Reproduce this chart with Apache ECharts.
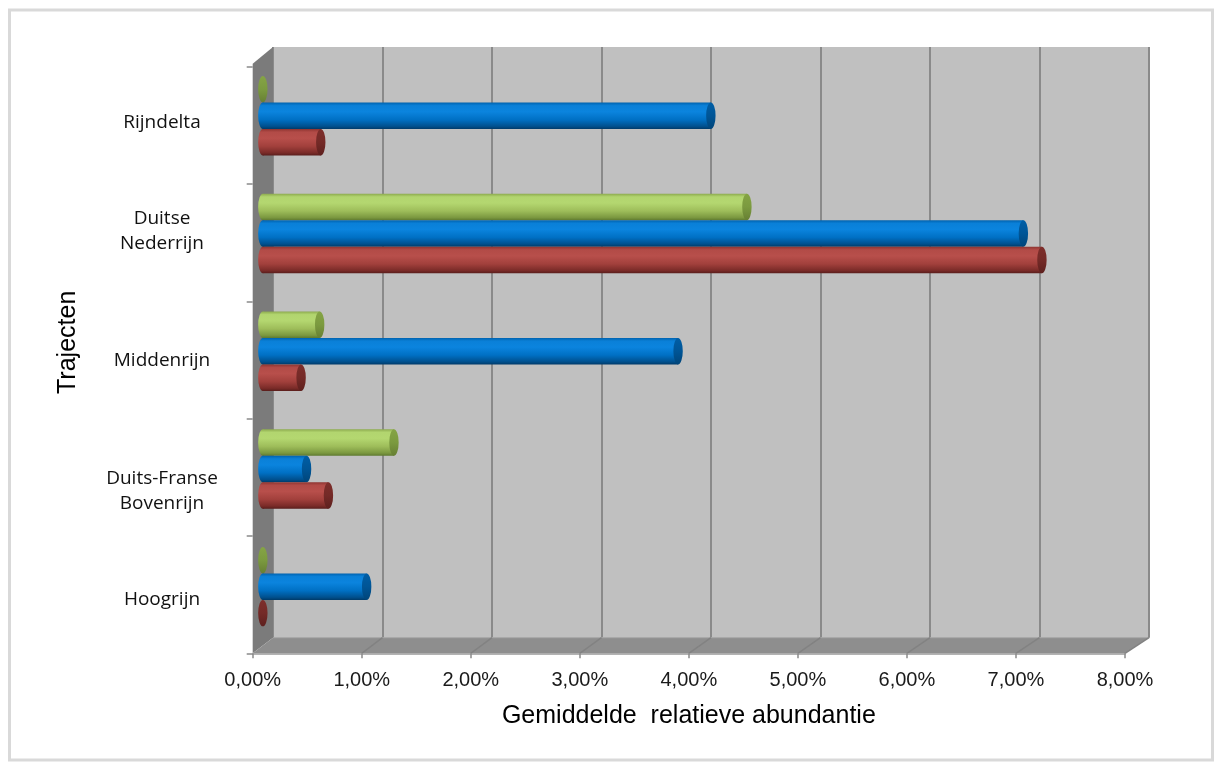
<!DOCTYPE html>
<html>
<head>
<meta charset="utf-8">
<title>Gemiddelde relatieve abundantie per traject</title>
<script src="https://cdn.jsdelivr.net/npm/echarts@6/dist/echarts.min.js"></script>
<style>
  html, body { margin: 0; padding: 0; background: #ffffff; }
  #chart { width: 1221px; height: 767px; }
</style>
</head>
<body>
<div id="chart"></div>
<script>
// Categories, bottom to top (the order the category axis lays them out)
const categories = ['Hoogrijn', 'Duits-Franse\nBovenrijn', 'Middenrijn', 'Duitse\nNederrijn', 'Rijndelta'];

// Mean relative abundance in percent, one value per category
const reeks1 = [0.00, 0.60, 0.35, 7.13, 0.53];   // red
const reeks2 = [0.95, 0.40, 3.80, 6.96, 4.10];   // blue
const reeks3 = [0.00, 1.20, 0.52, 4.43, 0.00];   // green

// Value axis tick labels (0 .. 8 %)
const xTickLabels = ['0,00%', '1,00%', '2,00%', '3,00%', '4,00%', '5,00%', '6,00%', '7,00%', '8,00%'];

// ---- layout of the 3D box: front plane, back wall and the depth where the cylinders sit
const FRONT = { left: 252.7, top: 66.7, width: 872.3, height: 586.6 };
const BACK  = { left: 273, top: 47, width: 876, height: 590.7 };
const MID = {
  left: (FRONT.left + BACK.left) / 2,
  top: (FRONT.top + BACK.top) / 2,
  width: (FRONT.width + BACK.width) / 2,
  height: (FRONT.height + BACK.height) / 2
};
const LABEL_X = 162;          // horizontal centre of the category labels
// vertical nudge of each category label (px), same order as categories
const LABEL_SHIFT = [5, 14, 1, -12, -3];
const BAR_FRACTION = 0.225;   // bar thickness as a share of a category band
const CAP_RX = 4.7;           // horizontal radius of the cylinder end caps

function grad(stops) {
  return { type: 'linear', x: 0, y: 0, x2: 0, y2: 1,
    colorStops: stops.map(s => ({ offset: s[0], color: s[1] })) };
}

const cylStyles = [
  { // red
    body: [[0, '#8e3431'], [0.12, '#b24b47'], [0.35, '#b84f4b'], [0.65, '#a2403c'], [0.9, '#7a2b28'], [1, '#5a1e1c']],
    cap: [[0, '#7d2e2b'], [0.5, '#742a27'], [1, '#5e201e']],
    offset: 1
  },
  { // blue
    body: [[0, '#0062ae'], [0.12, '#0a80d8'], [0.35, '#0b84de'], [0.65, '#0070c4'], [0.9, '#00508e'], [1, '#003b6a']],
    cap: [[0, '#005ea6'], [0.5, '#005596'], [1, '#00457a']],
    offset: 0
  },
  { // green
    body: [[0, '#8caa4e'], [0.12, '#b2d56f'], [0.35, '#b4d770'], [0.65, '#9ebd5a'], [0.9, '#7b9840'], [1, '#5f7a30']],
    cap: [[0, '#85a445'], [0.5, '#7b9a3f'], [1, '#677f33']],
    offset: -1
  }
];

function ellipse(cx, cy, rx, ry, fill) {
  return {
    type: 'circle',
    shape: { cx: 0, cy: 0, r: ry },
    x: cx, y: cy, scaleX: rx / ry, scaleY: 1,
    style: { fill: fill }
  };
}

function makeCylinder(styleIdx) {
  const st = cylStyles[styleIdx];
  return function (params, api) {
    const v = api.value(0);
    const cat = api.value(1);
    const p0 = api.coord([0, cat]);
    const p1 = api.coord([v, cat]);
    const band = api.size([0, 1])[1];
    const h = band * BAR_FRACTION;
    const cy = p0[1] + st.offset * h;
    const top = cy - h / 2;
    const children = [];
    if (p1[0] - p0[0] > 0.5) {
      children.push(ellipse(p0[0], cy, CAP_RX, h / 2, grad(st.body)));
      children.push({
        type: 'rect',
        shape: { x: p0[0], y: top, width: p1[0] - p0[0], height: h },
        style: { fill: grad(st.body) }
      });
    }
    children.push(ellipse(p1[0], cy, CAP_RX, h / 2, grad(st.cap)));
    return { type: 'group', children: children };
  };
}

// category names beside the left wall, centred on their bands
function renderCategoryLabel(params, api) {
  const idx = api.value(1);
  const p = api.coord([0, idx]);
  return {
    type: 'text',
    x: LABEL_X,
    y: p[1] + LABEL_SHIFT[idx],
    style: {
      text: categories[idx],
      align: 'center', verticalAlign: 'middle',
      fontFamily: 'Open Sans', fontSize: 19, lineHeight: 25,
      fill: '#111111'
    }
  };
}

const chart = echarts.init(document.getElementById('chart'), null, { renderer: 'canvas' });

const gridBase = { containLabel: false, outerBoundsMode: 'none' };

chart.setOption({
  animation: false,
  backgroundColor: '#ffffff',
  grid: [
    Object.assign({}, gridBase, FRONT),
    Object.assign({}, gridBase, BACK, { show: true, backgroundColor: '#c0c0c0', borderWidth: 0 }),
    Object.assign({}, gridBase, MID)
  ],
  xAxis: [
    {
      gridIndex: 0, type: 'value', min: 0, max: 8, interval: 1, z: 5,
      name: 'Gemiddelde  relatieve abundantie',
      nameLocation: 'middle', nameGap: 50,
      nameTextStyle: { fontFamily: 'Liberation Sans', fontSize: 25, color: '#000000' },
      axisLine: { show: true, lineStyle: { color: '#9a9a9a', width: 1.5 } },
      axisTick: { show: true, length: 5, lineStyle: { color: '#8a8a8a', width: 1.5 } },
      axisLabel: {
        margin: 17, fontFamily: 'Liberation Sans', fontSize: 20, color: '#1a1a1a',
        formatter: v => xTickLabels[Math.round(v)]
      },
      splitLine: { show: false }
    },
    {
      gridIndex: 1, type: 'value', min: 0, max: 8, interval: 1,
      axisLine: { show: false }, axisTick: { show: false }, axisLabel: { show: false },
      splitLine: { show: true, lineStyle: { color: '#8a8a8a', width: 2 } }
    },
    {
      gridIndex: 2, type: 'value', min: 0, max: 8, interval: 1, show: false
    }
  ],
  yAxis: [
    {
      gridIndex: 0, type: 'category', data: categories, z: 5,
      axisLine: { show: false },
      axisTick: { show: true, length: 6, lineStyle: { color: '#8a8a8a', width: 1.5 } },
      axisLabel: { show: false },
      splitLine: { show: false }
    },
    {
      gridIndex: 1, type: 'category', data: categories,
      name: 'Trajecten', nameLocation: 'middle', nameRotate: 90, nameGap: 192,
      nameTextStyle: { fontFamily: 'Liberation Sans', fontSize: 25, color: '#000000' },
      axisLine: { show: false }, axisTick: { show: false }, axisLabel: { show: false },
      splitLine: { show: false }
    },
    {
      gridIndex: 2, type: 'category', data: categories, show: false
    }
  ],
  series: [reeks3, reeks2, reeks1].map((data, k) => ({
    type: 'custom',
    name: ['Reeks3', 'Reeks2', 'Reeks1'][k],
    xAxisIndex: 2, yAxisIndex: 2, z: 4,
    renderItem: makeCylinder(2 - k),
    encode: { x: 0, y: 1 },
    data: data.map((v, i) => [v, i])
  })).concat([{
    type: 'custom',
    name: 'Trajecten',
    xAxisIndex: 0, yAxisIndex: 0, z: 4, silent: true,
    renderItem: renderCategoryLabel,
    encode: { x: 0, y: 1 },
    clip: false,
    data: categories.map((c, i) => [0, i])
  }])
});

// ---- walls, floor and frame, placed from the axis scales
const fx = v => chart.convertToPixel({ xAxisIndex: 0 }, v);
const bx = v => chart.convertToPixel({ xAxisIndex: 1 }, v);
const fBottom = FRONT.top + FRONT.height;
const bBottom = BACK.top + BACK.height;

const graphics = [
  { type: 'rect', z: 0, shape: { x: 9.5, y: 10, width: 1203, height: 750 },
    style: { fill: 'none', stroke: '#d9d9d9', lineWidth: 3 } },
  { type: 'polygon', z: 1,
    shape: { points: [[fx(0), FRONT.top - 3], [bx(0), BACK.top], [bx(0), bBottom], [fx(0), fBottom]] },
    style: { fill: '#7b7b7b' } },
  { type: 'polygon', z: 1,
    shape: { points: [[fx(0), fBottom], [bx(0), bBottom], [bx(8), bBottom], [fx(8), fBottom]] },
    style: { fill: '#8e8e8e' } },
  { type: 'line', z: 1,
    shape: { x1: bx(0), y1: bBottom, x2: bx(8), y2: bBottom },
    style: { stroke: '#a4a4a4', lineWidth: 1 } }
];
for (let t = 1; t <= 8; t++) {
  graphics.push({ type: 'line', z: 1,
    shape: { x1: fx(t), y1: fBottom, x2: bx(t), y2: bBottom },
    style: { stroke: '#828282', lineWidth: 1.5 } });
}
chart.setOption({ graphic: graphics });
</script>
</body>
</html>
